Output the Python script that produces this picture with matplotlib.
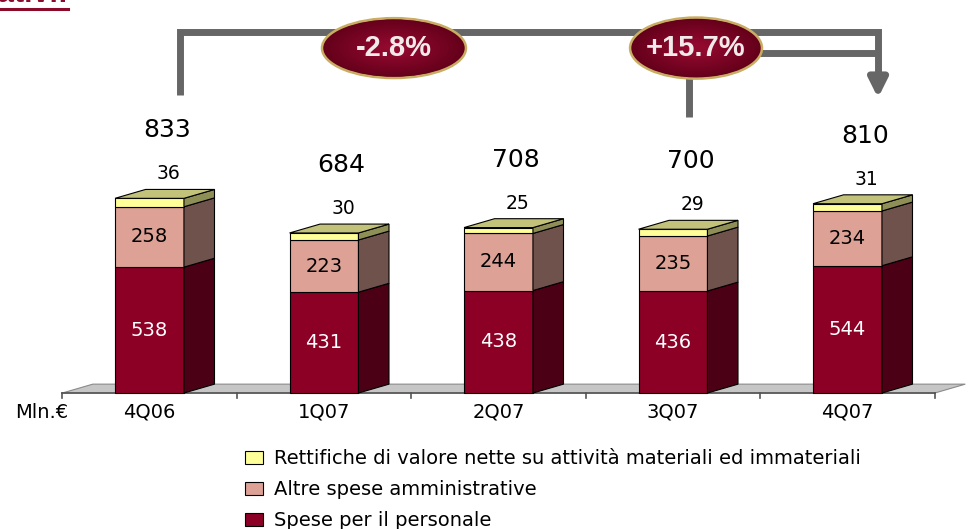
import matplotlib
matplotlib.use("Agg")
import matplotlib.pyplot as plt
import numpy as np
from matplotlib.patches import Polygon, Ellipse, Patch
from matplotlib.lines import Line2D
from matplotlib.colors import to_rgb

quarters = ["4Q06", "1Q07", "2Q07", "3Q07", "4Q07"]
personale = [538, 431, 438, 436, 544]
altre_spese = [258, 223, 244, 235, 234]
rettifiche = [36, 30, 25, 29, 31]
totali = [833, 684, 708, 700, 810]
variazioni = ["-2.8%", "+15.7%"]

# (legend label, values, front colour, side colour, top colour)
series = [
    ("Spese per il personale", personale, "#8c0026", "#4c0015", "#6a001c"),
    ("Altre spese amministrative", altre_spese, "#dda196", "#6f524b", "#b08078"),
    ("Rettifiche di valore nette su attività materiali ed immateriali",
     rettifiche, "#ffff99", "#8e8e57", "#c2c27a"),
]

FONT = "DejaVu Sans"
W = 0.395      # bar width (category units)
DX = 0.175     # 3d depth, x
DY = 38        # 3d depth, y (value units)

fig = plt.figure(figsize=(9.69, 5.29), dpi=100)
ax = fig.add_axes([0, 0, 1, 1])
ax.set_xlim(-0.8567, 4.6963)
ax.set_ylim(-581, 1679.5)
ax.axis("off")

x = np.arange(len(quarters))

# floor
fl, fr = -0.5, len(quarters) - 0.5
ax.add_patch(Polygon([(fl, 0), (fl + DX, DY), (fr + DX, DY), (fr, 0)],
                     closed=True, fc="#c6c6c6", ec="#8a8a8a", lw=0.8, zorder=1))
ax.plot([fl, fr], [0, 0], color="#555555", lw=1.2, zorder=1)
for t in np.arange(fl, fr + 0.01, 1.0):
    ax.plot([t, t], [0, -22], color="#555555", lw=1.2, zorder=1)

# stacked 3d bars
bottom = np.zeros(len(quarters))
for k, (name, vals, front, side, top) in enumerate(series):
    vals = np.array(vals, dtype=float)
    ax.bar(x, vals, W, bottom=bottom, color=front, edgecolor="black", lw=0.8, zorder=3)
    for i in x:
        x1 = i + W / 2
        b, t = bottom[i], bottom[i] + vals[i]
        ax.add_patch(Polygon([(x1, b), (x1 + DX, b + DY), (x1 + DX, t + DY), (x1, t)],
                             closed=True, fc=side, ec="black", lw=0.8, zorder=3))
        if k == len(series) - 1:
            x0 = i - W / 2
            ax.add_patch(Polygon([(x0, t), (x0 + DX, t + DY), (x1 + DX, t + DY), (x1, t)],
                                 closed=True, fc=top, ec="black", lw=0.8, zorder=3))
    bottom = bottom + vals

# segment labels
for i in x:
    ax.text(i, personale[i] / 2, str(personale[i]), ha="center", va="center",
            fontsize=14, color="white", family=FONT, zorder=5)
    ax.text(i, personale[i] + altre_spese[i] / 2, str(altre_spese[i]), ha="center",
            va="center", fontsize=14, color="black", family=FONT, zorder=5)
    ax.text(i + 0.11, bottom[i] + 105, str(rettifiche[i]), ha="center", va="center",
            fontsize=13.5, color="black", family=FONT, zorder=5)
    ax.text(i + 0.1, bottom[i] + 290, str(totali[i]), ha="center", va="center",
            fontsize=18, color="black", family=FONT, zorder=5)

# category axis
for i, q in enumerate(quarters):
    ax.text(i, -82, q, ha="center", va="center", fontsize=14, family=FONT)
ax.text(-0.77, -85, "Mln.€", ha="left", va="center", fontsize=14, family=FONT)

# change brackets
grey = "#666666"
lw_br = 5
y_top, y_mid = 1543, 1453
xa, xb = x[0] + DX, x[-1] + DX
ax.plot([xa, xa, xb, xb], [1275, y_top, y_top, 1330], color=grey, lw=lw_br,
        solid_joinstyle="miter", solid_capstyle="butt", zorder=2)
ax.annotate("", xy=(xb, 1261), xytext=(xb, 1345),
            arrowprops=dict(arrowstyle="-|>,head_length=1.1,head_width=0.55",
                            color=grey, lw=lw_br, shrinkA=0, shrinkB=0), zorder=2)
x3 = x[3] + 0.09
ax.plot([x3, x3], [1180, 1400], color=grey, lw=lw_br, solid_capstyle="butt", zorder=2)
ax.plot([3.45, xb], [y_mid, y_mid], color=grey, lw=lw_br, solid_capstyle="butt", zorder=2)


def bubble(cx, cy, w, h, label):
    dark, light = np.array(to_rgb("#64001a")), np.array(to_rgb("#9a0a32"))
    ax.add_patch(Ellipse((cx, cy), w, h, fc=dark, ec="#c8ad62", lw=1.8, zorder=6))
    for s in np.linspace(0.95, 0.15, 14):
        c = light + (dark - light) * s
        ax.add_patch(Ellipse((cx, cy), w * s, h * s, fc=c, ec="none", zorder=6))
    ax.text(cx, cy, label, ha="center", va="center", fontsize=21, fontweight="bold",
            color="#f2eaea", family="Liberation Sans", zorder=7)


bubble(1.401, 1474, 0.825, 256, variazioni[0])
bubble(3.132, 1474, 0.756, 261, variazioni[1])

# heading (runs off the top of the slide)
fig.text(68 / 969, 1 - 2 / 529, "Costi operativi:", ha="right", va="baseline",
         fontsize=22, fontweight="bold", color="#8b0a2a", family="Liberation Sans")
fig.add_artist(Line2D([0, 68 / 969], [1 - 8.5 / 529] * 2, color="#8b0a2a", lw=2.2))

# legend
handles = [Patch(fc=s[2], ec="black", lw=0.8, label=s[0]) for s in series[::-1]]
fig.legend(handles=handles, loc="upper left", bbox_to_anchor=(245 / 969, 1 - 449 / 529),
           frameon=False, prop={"family": FONT, "size": 14},
           handlelength=0.95, handleheight=0.65, handletextpad=0.55, labelspacing=0.62,
           borderaxespad=0, borderpad=0)

fig.savefig("out.png", dpi=100)
